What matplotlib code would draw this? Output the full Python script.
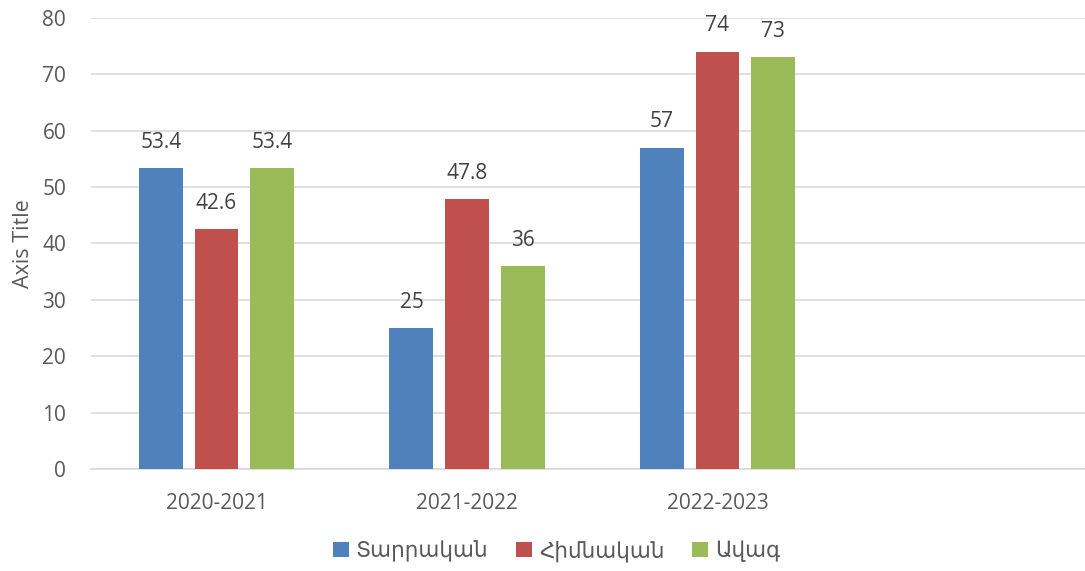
import matplotlib
matplotlib.use('Agg')
import matplotlib.pyplot as plt
import numpy as np

plt.rcParams['font.family'] = ['Open Sans', 'DejaVu Sans']

# data
years = ['2020-2021', '2021-2022', '2022-2023']
series_names = ['Տարրական', 'Հիմնական', 'Ավագ']
tarrakan = [53.4, 25, 57]
himnakan = [42.6, 47.8, 74]
avag = [53.4, 36, 73]
labels = [['53.4', '25', '57'], ['42.6', '47.8', '74'], ['53.4', '36', '73']]

colors = ['#4f81bd', '#c0504d', '#9bbb59']
text_c = '#595959'

fig = plt.figure(figsize=(10.85, 5.71), dpi=100)
ax = fig.add_axes([0.0841, 0.1786, 0.9235, 0.79])

x = np.arange(len(years))
w = 0.1756
step = 0.2216
for i, (vals, name) in enumerate(zip([tarrakan, himnakan, avag], series_names)):
    pos = x + (i - 1) * step
    bars = ax.bar(pos, vals, width=w, color=colors[i], label=name, zorder=3)
    for b, t in zip(bars, labels[i]):
        ax.annotate(t, (b.get_x() + b.get_width() / 2, b.get_height()),
                    xytext=(0, 11), textcoords='offset points',
                    ha='center', va='bottom', fontsize=15, color='#404040')

ax.set_xlim(-0.5, 3.5)
ax.set_ylim(0, 80)
ax.set_yticks(range(0, 81, 10))
ax.set_xticks(x)
ax.set_xticklabels(years)
ax.tick_params(axis='both', length=0, labelsize=15, labelcolor=text_c)
ax.tick_params(axis='x', pad=17)
ax.tick_params(axis='y', pad=18)
ax.grid(axis='y', color='#d9d9d9', linewidth=1.2, zorder=0)
for s in ['top', 'right', 'left']:
    ax.spines[s].set_visible(False)
ax.spines['bottom'].set_color('#d9d9d9')
ax.spines['bottom'].set_linewidth(1.2)

ax.set_ylabel('Axis Title', fontsize=15.5, color=text_c, labelpad=6)

leg = fig.legend(loc='lower center', bbox_to_anchor=(0.513, -0.018), ncol=3,
                 frameon=False, fontsize=15.5, handlelength=0.75, handleheight=0.75,
                 handletextpad=0.3, columnspacing=1.3)
for t in leg.get_texts():
    t.set_color(text_c)

plt.savefig('out.png', dpi=100)
plt.close()
